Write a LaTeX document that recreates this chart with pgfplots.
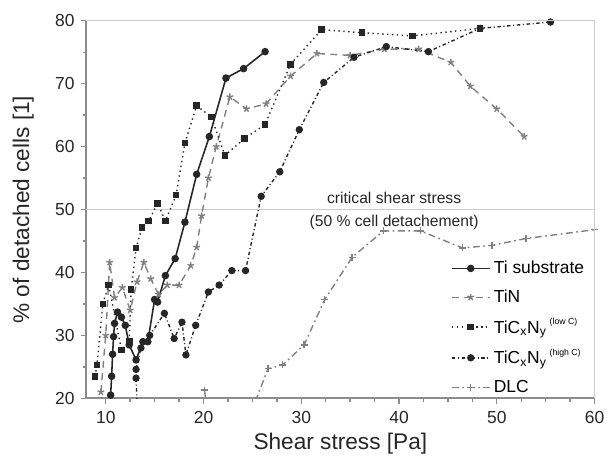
\documentclass[border=0pt]{standalone}
\usepackage{fontspec}
\setmainfont{Liberation Sans}
\usepackage{pgfplots}
\pgfplotsset{compat=1.18}

\definecolor{cDark}{gray}{0.15}
\definecolor{cGrey}{gray}{0.5}
\definecolor{cAxis}{gray}{0.55}
\definecolor{cFrame}{gray}{0.8}

\begin{document}
\begin{tikzpicture}
\begin{axis}[
  width=10.26cm, height=7.62cm, scale only axis,
  xmin=8, xmax=60, ymin=20, ymax=80,
  axis lines=left, axis line style={-, cAxis, line width=1.1pt},
  xtick={10,20,...,60}, ytick={20,30,...,80},
  minor x tick num=3, minor y tick num=1,
  tick align=outside, major tick length=0.11cm, minor tick length=0.07cm,
  tick style={cAxis, line width=0.8pt},
  tick label style={font=\fontsize{10}{12}\selectfont, text=black!85},
  xticklabel style={yshift=-1pt},
  /pgf/number format/assume math mode=true,
  xlabel={Shear stress [Pa]}, ylabel={\% of detached cells [1]},
  label style={font=\fontsize{13}{15}\selectfont, text=black!85},
  xlabel style={at={(rel axis cs:0.5,-0.121)}, anchor=center},
  ylabel style={at={(rel axis cs:-0.124,0.5)}, anchor=center},
  legend style={at={(rel axis cs:0.994,-0.01)}, anchor=south east, draw=none, fill=none,
                font=\fontsize{10}{12}\selectfont, row sep=3.8pt, inner sep=2pt},
  legend cell align=left,
  legend image code/.code={\draw[mark repeat=2,mark phase=2,#1]
     plot coordinates {(0cm,0cm) (0.38cm,0cm) (0.76cm,0cm)};},
]
% critical line
\addplot[cFrame, line width=0.6pt, forget plot] coordinates {(8,50) (60,50)};

% Ti substrate
\addplot[cDark, line width=0.9pt, mark=*, mark size=1.7pt] coordinates {
 (10.5,20.5) (10.6,23.5) (10.7,27) (10.8,29.8) (10.9,31.9) (11.2,33.7) (11.6,32.9)
 (12.0,31.6) (12.4,28.5) (13.1,26.1) (13.8,29) (14.3,29) (15.0,35.7) (15.3,35.3)
 (16.1,39.5) (17.1,42.2) (18.1,48) (19.3,55.6) (20.6,61.6) (22.3,70.9) (24.1,72.4) (26.3,75.1)};
\addlegendentry{Ti substrate}

% TiN
\addplot[cGrey, line width=0.8pt, dash pattern=on 4pt off 3pt, mark=star, mark size=2pt, mark options={solid}] coordinates {
 (9.5,21) (10.0,30) (10.4,41.6) (10.9,36) (11.7,37.6) (12.5,34) (13.2,38.5) (13.9,41.6)
 (14.6,39) (15.4,36.5) (16.3,38) (17.5,38) (18.7,41.1) (19.3,44) (19.8,49) (20.5,55)
 (21.3,60) (22.7,67.9) (24.4,66) (26.4,66.8) (28.9,71.2) (31.6,74.8) (35.0,74.5)
 (38.5,75.5) (42,75.5) (45.3,73.4) (47.3,69.6) (50,66) (52.8,61.6)};
\addlegendentry{TiN}

% TiCxNy low C
\addplot[cDark, line width=0.8pt, dotted, mark=square*, mark size=1.5pt, mark options={solid}] coordinates {
 (8.9,23.5) (9.1,25.3) (9.7,35) (10.3,38) (11.6,27.7) (12.4,29) (12.6,37.3) (13.1,43.9)
 (13.7,47.1) (14.4,48.2) (15.3,51) (16.1,48.2) (17.2,52.3) (18.1,60.6) (19.3,66.5)
 (20.8,64.7) (22.2,58.6) (24.2,61.3) (26.3,63.5) (28.9,73.1) (32.1,78.6) (36.2,78.1)
 (41.4,77.6) (48.3,78.8)};
\addlegendentry{TiC\textsubscript{x}N\textsubscript{y}\,\raisebox{0.9ex}{\fontsize{5}{6}\selectfont (low C)}}

% TiCxNy high C
\addplot[cDark, line width=0.8pt, dash pattern=on 2pt off 1.5pt on 0.6pt off 1.5pt, mark=*, mark size=1.7pt, mark options={solid}] coordinates {
 (13.2,19.5) (13.1,23.2) (13.1,24.6) (13.6,28) (14.5,30) (16,33.5) (17.0,29.5)
 (17.8,32.1) (18.2,26.9) (19.2,31.6) (20.5,36.9) (21.6,38) (22.9,40.3) (24.3,40.3)
 (25.9,52.1) (27.8,56) (29.8,62.7) (32.3,70.2) (35.4,74.2) (38.7,75.9) (43,75.1)
 (48.3,78.8) (55.5,79.8)};
\addlegendentry{TiC\textsubscript{x}N\textsubscript{y}\,\raisebox{0.9ex}{\fontsize{5}{6}\selectfont (high C)}}

% DLC
\addplot[cGrey, line width=0.8pt, dash pattern=on 4pt off 2pt on 1pt off 2pt, mark=+, mark size=2pt, mark options={solid}] coordinates {
 (20.1,21.3) (20.6,15) (25.3,19.5) (26.6,24.7) (28.1,25.3) (30.3,28.5) (32.4,35.7) (35.2,42.4)
 (38.4,46.6) (42.2,46.6) (46.5,43.9) (49.5,44.3) (53,45.4) (60,46.8)};
\addlegendentry{DLC}

\node[font=\fontsize{9}{11}\selectfont, text=black!85] at (axis cs:39.5,51.8) {critical shear stress};
\node[font=\fontsize{9}{11}\selectfont, text=black!85] at (axis cs:39.5,48.0) {(50 \% cell detachement)};

\coordinate (nw) at (rel axis cs:0,1);
\coordinate (ne) at (rel axis cs:1,1);
\coordinate (se) at (rel axis cs:1,0);
\coordinate (bbsw) at (rel axis cs:-0.1696,-0.1522);
\coordinate (bbne) at (rel axis cs:1.0195,1.0551);
\end{axis}
\draw[cFrame, line width=0.7pt] (nw) -- (ne) -- (se);
\path (bbsw) rectangle (bbne);
\end{tikzpicture}
\end{document}
